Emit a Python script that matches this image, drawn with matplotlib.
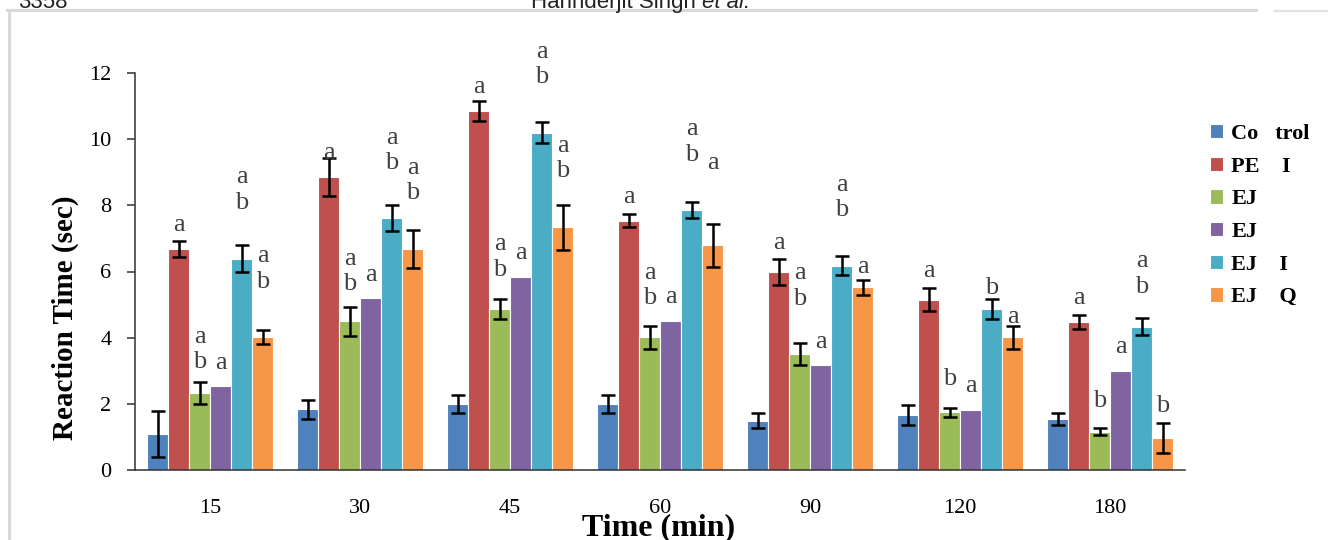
import matplotlib
matplotlib.use("Agg")
import matplotlib.pyplot as plt
from matplotlib.lines import Line2D
import numpy as np

plt.rcParams['font.family'] = ['Liberation Serif', 'DejaVu Serif']

# categories (time after dosing)
times = ['15', '30', '45', '60', '90', '120', '180']

series_names = ['Co   trol', 'PE    I', 'EJ', 'EJ', 'EJ    I', 'EJ    Q']
colors = ['#4F81BD', '#C0504D', '#9BBB59', '#8064A2', '#4BACC6', '#F79646']

# mean reaction time (sec)
control = [1.09, 1.83, 2.00, 2.00, 1.49, 1.66, 1.53]
pe = [6.68, 8.86, 10.86, 7.53, 5.98, 5.15, 4.48]
ej1 = [2.33, 4.49, 4.86, 4.01, 3.51, 1.74, 1.16]
ej2 = [2.53, 5.20, 5.84, 4.49, 3.17, 1.82, 2.99]
ej3 = [6.39, 7.61, 10.20, 7.85, 6.18, 4.86, 4.33]
ej4 = [4.02, 6.68, 7.34, 6.79, 5.52, 4.01, 0.97]

# error (sem); None = no error bar drawn
control_err = [0.70, 0.30, 0.27, 0.27, 0.22, 0.30, 0.18]
pe_err = [0.24, 0.57, 0.30, 0.20, 0.39, 0.35, 0.22]
ej1_err = [0.34, 0.44, 0.31, 0.34, 0.34, 0.14, 0.11]
ej2_err = [None] * 7
ej3_err = [0.41, 0.40, 0.31, 0.24, 0.29, 0.30, 0.26]
ej4_err = [0.21, 0.57, 0.68, 0.65, 0.22, 0.34, 0.45]

# significance letters and their heights
control_sig = [''] * 7
pe_sig = ['a'] * 7
ej1_sig = ['a\nb', 'a\nb', 'a\nb', 'a\nb', 'a\nb', 'b', 'b']
ej2_sig = ['a'] * 7
ej3_sig = ['a\nb', 'a\nb', 'a\nb', 'a\nb', 'a\nb', 'b', 'a\nb']
ej4_sig = ['a\nb', 'a\nb', 'a\nb', 'a', 'a', 'a', 'b']

control_sig_y = [0] * 7
pe_sig_y = [7.41, 9.59, 11.57, 8.24, 6.87, 6.03, 5.21]
ej1_sig_y = [3.64, 6.00, 6.44, 5.57, 5.56, 2.74, 2.10]
ej2_sig_y = [3.24, 5.88, 6.57, 5.24, 3.88, 2.55, 3.71]
ej3_sig_y = [8.46, 9.65, 12.26, 9.91, 8.23, 5.51, 5.93]
ej4_sig_y = [6.08, 8.75, 9.41, 9.27, 6.15, 4.63, 1.93]

values = [control, pe, ej1, ej2, ej3, ej4]
errors = [control_err, pe_err, ej1_err, ej2_err, ej3_err, ej4_err]
sigs = [control_sig, pe_sig, ej1_sig, ej2_sig, ej3_sig, ej4_sig]
sig_ys = [control_sig_y, pe_sig_y, ej1_sig_y, ej2_sig_y, ej3_sig_y, ej4_sig_y]

W, H = 1328, 540
fig = plt.figure(figsize=(W / 100, H / 100), dpi=100)
ax = fig.add_axes([135 / W, 70 / H, 1050 / W, 397 / H])

x = np.arange(len(times))
bw = 0.14
handles = []
for j in range(6):
    xs = x + (j - 2.5) * bw
    b = ax.bar(xs, values[j], width=bw, color=colors[j], edgecolor='white',
               linewidth=0.8, zorder=2)
    handles.append(b)
    for i in range(len(times)):
        e = errors[j][i]
        if e is not None:
            ax.errorbar(xs[i], values[j][i], yerr=e, fmt='none', ecolor='black',
                        elinewidth=1.8, capsize=5, capthick=1.8, zorder=3)
        if sigs[j][i]:
            ax.text(xs[i], sig_ys[j][i], sigs[j][i], ha='center', va='center',
                    fontsize=19, color='#404040', linespacing=1.2,
                    clip_on=False, zorder=4)

ax.set_xlim(-0.5, len(times) - 0.5)
ax.set_ylim(0, 12)
ax.set_yticks(range(0, 13, 2))
ax.set_xticks(x)
ax.set_xticklabels(times)
for s in ['top', 'right']:
    ax.spines[s].set_visible(False)
for s in ['left', 'bottom']:
    ax.spines[s].set_color('#303030')
    ax.spines[s].set_linewidth(1.1)
ax.tick_params(axis='y', direction='out', length=6, width=1.1, color='#303030',
               pad=11, labelsize=16)
ax.tick_params(axis='x', length=0, pad=21, labelsize=16)

fig.text(65 / W, 1 - 318 / H, 'Reaction Time (sec)', rotation=90,
         ha='center', va='center', fontsize=21, fontweight='bold')
fig.text(659 / W, 1 - 528 / H, 'Time (min)', ha='center', va='center',
         fontsize=23, fontweight='bold')

leg = fig.legend([h[0] for h in handles], series_names, loc='upper left',
                 bbox_to_anchor=(1190 / W, 1 - 104 / H), frameon=False,
                 prop={'size': 16, 'weight': 'bold'}, handlelength=0.6,
                 handleheight=0.6, handletextpad=0.35, labelspacing=0.57)

# page furniture from the scan
fig.add_artist(Line2D([7 / W, 1256 / W], [1 - 10 / H, 1 - 10 / H],
                      color='#d9d9d9', lw=2.2))
fig.add_artist(Line2D([1275 / W, 1], [1 - 11 / H, 1 - 11 / H],
                      color='#e3e3e3', lw=1.6))
fig.add_artist(Line2D([9 / W, 9 / W], [0, 1 - 10 / H], color='#d9d9d9', lw=2.2))
fig.text(18 / W, 1 - 8 / H, '3358', ha='left', va='baseline', fontsize=16,
         family='Liberation Sans', color='#222222')
fig.text(702 / W, 1 - 8 / H, 'Harinderjit Singh ', ha='right', va='baseline',
         fontsize=16, family='Liberation Sans', color='#222222')
fig.text(702 / W, 1 - 8 / H, 'et al.', ha='left', va='baseline', fontsize=16,
         family='Liberation Sans', style='italic', color='#222222')

fig.savefig('out.png', dpi=100)
